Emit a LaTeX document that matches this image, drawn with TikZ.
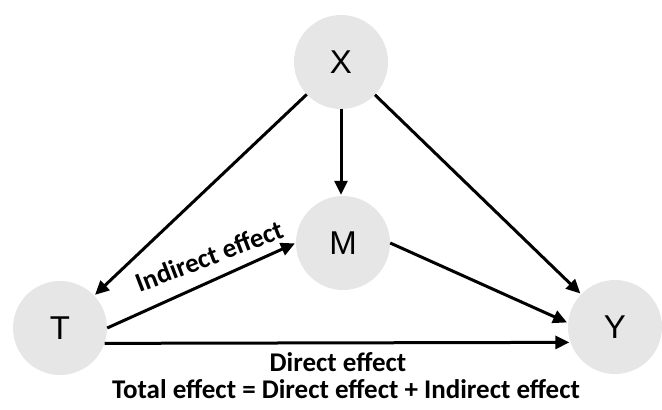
\documentclass[tikz,border=0pt]{standalone}
\usepackage{fontspec}
\setmainfont{Liberation Sans}
\newfontfamily\labelfont{Carlito}
\usetikzlibrary{arrows.meta,calc,positioning}
\definecolor{nodegray}{RGB}{231,230,230}
\definecolor{arrdark}{RGB}{0,0,0}

\begin{document}
\begin{tikzpicture}[
      x=1pt, y=-1pt,
      var/.style={circle, fill=nodegray, minimum size=94pt, inner sep=0pt, font=\fontsize{33}{36}\selectfont},
      arr/.style={-{Triangle[length=14pt,width=13pt]}, line width=3pt, color=arrdark, shorten >=1pt},
      lbl/.style={font=\labelfont\bfseries\fontsize{27}{30}\selectfont, inner sep=0pt}
    ]
      \useasboundingbox (0,0) rectangle (662,410);

      \node[var] (X) at (341,62) {X};
      \node[var] (M) at (343,243) {M};
      \node[var] (T) at (60,328) {T};
      \node[var] (Y) at (615,327) {Y};

      \draw[arr] (X) -- (T);
      \draw[arr] (X.-90) -- (X.-90 |- M.north);
      \draw[arr] (X) -- (Y);
      \draw[arr] (T.east) -- (M.west);
      \draw[arr] (M.east) -- (Y.175);
      \draw[arr] (T.-19) -- (Y.199);

      \node[lbl, rotate=21] (indirect) at (209,256) {Indirect effect};
      \node[lbl] (direct) at (338,362) {Direct effect};
      \node[lbl] (total) at (346,389) {Total effect = Direct effect + Indirect effect};
    \end{tikzpicture}
\end{document}
